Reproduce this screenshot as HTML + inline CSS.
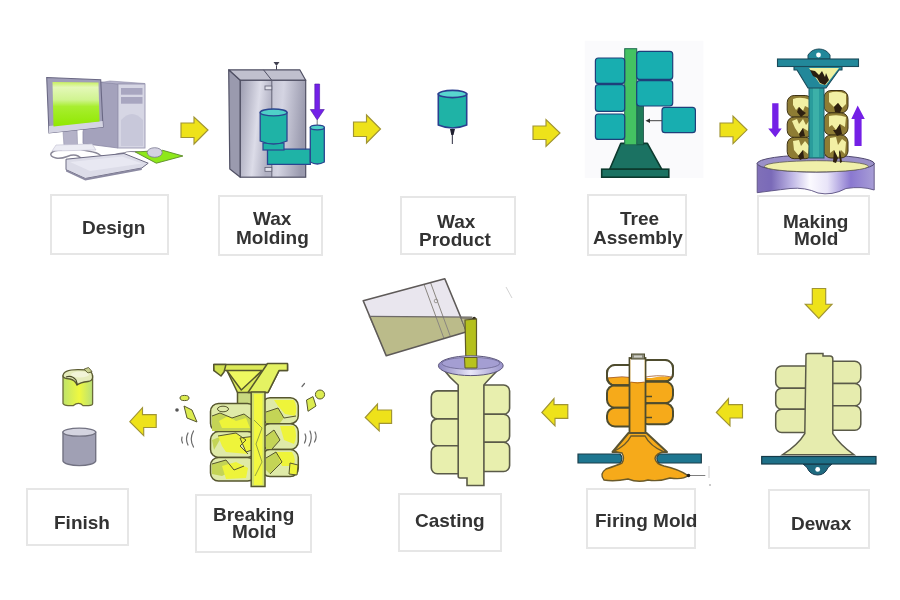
<!DOCTYPE html>
<html><head><meta charset="utf-8">
<style>
html,body{margin:0;padding:0;background:#fff;width:900px;height:600px;overflow:hidden;position:relative;font-family:"Liberation Sans",sans-serif;}
.box{position:absolute;border:2px solid #e6e6e6;box-sizing:border-box;background:#fff;}
.t{position:absolute;white-space:nowrap;font-weight:bold;color:#333;will-change:transform;font-size:19px;line-height:19px;}
svg{position:absolute;left:0;top:0;}
</style></head><body>
<div class="box" style="left:49.6px;top:193.6px;width:119.7px;height:61.6px"></div>
<div class="box" style="left:218.4px;top:194.8px;width:105.0px;height:61.2px"></div>
<div class="box" style="left:399.9px;top:196.4px;width:116.3px;height:59.1px"></div>
<div class="box" style="left:587.3px;top:193.7px;width:100.2px;height:62.6px"></div>
<div class="box" style="left:757.2px;top:194.9px;width:113.2px;height:60.6px"></div>
<div class="box" style="left:768.2px;top:488.8px;width:102.2px;height:59.8px"></div>
<div class="box" style="left:586.1px;top:488.0px;width:109.7px;height:60.7px"></div>
<div class="box" style="left:397.7px;top:493.0px;width:103.9px;height:58.8px"></div>
<div class="box" style="left:195.2px;top:493.8px;width:116.5px;height:59.1px"></div>
<div class="box" style="left:26.3px;top:488.0px;width:103.1px;height:58.0px"></div>

<div class="t" id="t1" style="left:81.8px;top:218px">Design</div>
<div class="t" id="t2a" style="left:253.4px;top:209.4px">Wax</div>
<div class="t" id="t2b" style="left:236.3px;top:227.9px">Molding</div>
<div class="t" id="t3a" style="left:436.7px;top:211.6px">Wax</div>
<div class="t" id="t3b" style="left:419.2px;top:230.2px">Product</div>
<div class="t" id="t4a" style="left:619.5px;top:209.4px">Tree</div>
<div class="t" id="t4b" style="left:592.7px;top:227.5px">Assembly</div>
<div class="t" id="t5a" style="left:783.2px;top:211.5px">Making</div>
<div class="t" id="t5b" style="left:793.6px;top:229.4px">Mold</div>
<div class="t" id="t6" style="left:791.2px;top:513.8px">Dewax</div>
<div class="t" id="t7" style="left:595.4px;top:511.2px">Firing Mold</div>
<div class="t" id="t8" style="left:415.1px;top:511.4px">Casting</div>
<div class="t" id="t9a" style="left:213.4px;top:505px">Breaking</div>
<div class="t" id="t9b" style="left:231.7px;top:522.1px">Mold</div>
<div class="t" id="t10" style="left:54.4px;top:513.4px">Finish</div>
<svg width="900" height="600" viewBox="0 0 900 600">
<defs>
<linearGradient id="scr" x1="0" y1="0" x2="0" y2="1"><stop offset="0" stop-color="#c8f060"/><stop offset="0.12" stop-color="#e4f8b8"/><stop offset="0.4" stop-color="#d0f490"/><stop offset="0.55" stop-color="#a8ee30"/><stop offset="1" stop-color="#90e800"/></linearGradient>
<linearGradient id="steel" x1="0" y1="0" x2="1" y2="0"><stop offset="0" stop-color="#9a9aae"/><stop offset="0.45" stop-color="#d4d4e0"/><stop offset="0.7" stop-color="#b8b8c8"/><stop offset="1" stop-color="#a0a0b4"/></linearGradient>
<linearGradient id="tank" x1="0" y1="0" x2="1" y2="0"><stop offset="0" stop-color="#8070b8"/><stop offset="0.12" stop-color="#7a6ab8"/><stop offset="0.3" stop-color="#c0b8e6"/><stop offset="0.45" stop-color="#fbfaff"/><stop offset="0.6" stop-color="#e8e4f8"/><stop offset="0.8" stop-color="#8a78d0"/><stop offset="1" stop-color="#a89ed6"/></linearGradient>
<linearGradient id="steelL" x1="0" y1="0" x2="1" y2="0.3"><stop offset="0" stop-color="#9c9cb0"/><stop offset="0.6" stop-color="#dcdce8"/><stop offset="1" stop-color="#b0b0c2"/></linearGradient>
<linearGradient id="steelR" x1="0" y1="0" x2="1" y2="0.2"><stop offset="0" stop-color="#c4c4d4"/><stop offset="0.35" stop-color="#d4d4e2"/><stop offset="1" stop-color="#9a9aae"/></linearGradient>
</defs>
<g id="computer">
<!-- cables -->
<path d="M62,150 C50,150 47,156 56,158 C66,160 70,152 78,156 C86,160 80,166 92,160" fill="none" stroke="#8a8898" stroke-width="1.5"/>
<path d="M74,146 C80,152 95,150 100,155 C106,160 112,154 124,153" fill="none" stroke="#8a8898" stroke-width="1.3"/>
<path d="M124,153 C128,150 134,152 140,152" fill="none" stroke="#8a8898" stroke-width="1.1"/>
<!-- tower -->
<path d="M92,81 L118,84 L118,148 L83,143.5 L83,132 Z" fill="#a4a2bc" stroke="#8a88a4" stroke-width="0.8"/>
<path d="M101,82.5 L110,81 L145,83.5 L118,84 Z" fill="#b4b2ca" stroke="#8a88a4" stroke-width="0.6"/>
<rect x="118" y="84" width="27" height="64" fill="#d6d6e4" stroke="#9a98b2" stroke-width="0.9"/>
<rect x="121" y="88" width="21.5" height="6.7" fill="#a8a6c0"/>
<rect x="121" y="97" width="21.5" height="6.7" fill="#a8a6c0"/>
<path d="M121,120 Q132,108 143,120 V146 H121 Z" fill="#c8c8da"/>
<!-- monitor stand -->
<path d="M63,131 L77,130 L77.5,145 L64,145.5 Z" fill="#b4b2c8" stroke="#9a98b0" stroke-width="0.7"/>
<path d="M56,145 L92,144 L96,150 L52,151 Z" fill="#ececf4" stroke="#c0bed0" stroke-width="0.6"/>
<!-- monitor -->
<path d="M46.7,77.5 L100.7,79.7 L103,127 L49,133 Z" fill="#a09eb8" stroke="#6a6884" stroke-width="1.1"/>
<path d="M49,126 L102.6,121 L103,127 L49,133 Z" fill="#d4d4e2"/>
<path d="M52.5,82 L98.5,82.5 L99.5,121.5 L53.5,126.5 Z" fill="url(#scr)"/>
<!-- keyboard -->
<path d="M66,159.2 L124,153.5 L148.2,163.2 L141.8,168 L85.3,178.5 L66,169.7 Z" fill="#dcdce8" stroke="#6c6a82" stroke-width="1"/>
<path d="M70,162 L122,156.5 L142,163.5 L90,171 Z" fill="#e8e8f2"/>
<path d="M66,169.7 L85.3,178.5 L141.8,168 L141.8,170 L85.3,180.5 L66,171.5 Z" fill="#8c8aa2"/>
<!-- mouse pad -->
<path d="M135.3,152 L162.7,150.3 L182.9,156 L156.3,163.2 Z" fill="#8ee81a" stroke="#5a8a28" stroke-width="0.9"/>
<ellipse cx="154.7" cy="152.5" rx="7.5" ry="4.8" fill="#d4d2e2" stroke="#7a7890" stroke-width="0.8"/>
</g>
<g id="waxmold">
<path d="M273.5,62 L279.5,62 L276.5,66 Z" fill="#404050"/>
<line x1="276.5" y1="66" x2="276.5" y2="70" stroke="#404050" stroke-width="1"/>
<!-- left side face -->
<path d="M228.7,69.8 L240.3,80.3 L240.3,177.2 L229.8,169 Z" fill="#9a9aae" stroke="#505064" stroke-width="1.2" stroke-linejoin="round"/>
<!-- top face -->
<path d="M228.7,69.8 L299.8,69.8 L305.7,80.3 L240.3,80.3 Z" fill="#c0c0ce" stroke="#505064" stroke-width="1.2" stroke-linejoin="round"/>
<line x1="263.5" y1="69.8" x2="271.8" y2="80.3" stroke="#505064" stroke-width="1"/>
<!-- front face -->
<rect x="240.3" y="80.3" width="31.5" height="96.9" fill="url(#steelL)"/>
<rect x="271.8" y="80.3" width="33.9" height="96.9" fill="url(#steelR)"/>
<rect x="240.3" y="80.3" width="65.4" height="96.9" fill="none" stroke="#505064" stroke-width="1.2"/>
<line x1="271.8" y1="80.3" x2="271.8" y2="177.2" stroke="#606074" stroke-width="1"/>
<rect x="265" y="86" width="6.8" height="3.8" fill="#e0e0ea" stroke="#606074" stroke-width="0.8"/>
<rect x="265" y="167.5" width="6.8" height="3.8" fill="#e0e0ea" stroke="#606074" stroke-width="0.8"/>
<!-- teal parts -->
<path d="M267.5,149.2 H310.3 V164.3 H267.5 Z" fill="#1fb3a6" stroke="#2a4590" stroke-width="1.3"/>
<rect x="263" y="143" width="21" height="7" fill="#1fb3a6" stroke="#2a4590" stroke-width="1.2"/>
<path d="M260.2,112.4 V141 Q273.6,147 287,141 V112.4 Z" fill="#1fb3a6" stroke="#2a4590" stroke-width="1.3"/>
<ellipse cx="273.6" cy="112.4" rx="13.4" ry="3.4" fill="#4fd0c8" stroke="#2a4590" stroke-width="1.3"/>
<path d="M310.3,127.5 V162 Q317.3,166 324.3,162 V127.5 Z" fill="#1fb3a6" stroke="#2a4590" stroke-width="1.3"/>
<ellipse cx="317.3" cy="127.5" rx="7" ry="2.3" fill="#4fd0c8" stroke="#2a4590" stroke-width="1.3"/>
<!-- purple arrow -->
<path d="M314.8,84 H319.6 V109.5 H324.3 L317.2,120 L310.3,109.5 H314.8 Z" fill="#7320e8" stroke="#4a1aa0" stroke-width="0.6"/>
<line x1="317.2" y1="120" x2="317.2" y2="125" stroke="#555" stroke-width="0.8"/>
</g>
<g id="waxprod">
<line x1="452.4" y1="130" x2="452.4" y2="144" stroke="#505060" stroke-width="1.2"/>
<path d="M450,129 L455,129 L453.5,135 L451.3,135 Z" fill="#202030"/>
<path d="M438.3,94 V125 Q452.5,131 466.7,125 V94 Z" fill="#1fb3a6" stroke="#2a3f8f" stroke-width="1.6"/>
<ellipse cx="452.5" cy="94" rx="14.2" ry="3.6" fill="#58d6cf" stroke="#2a3f8f" stroke-width="1.6"/>
</g>
<g id="tree">
<rect x="584.7" y="40.7" width="118.7" height="137.3" fill="#fafafc"/>
<path d="M620.8,143.4 L647.4,143.4 L661.7,169.2 L609.7,169.2 Z" fill="#1b7262" stroke="#0c3a2e" stroke-width="1.6" stroke-linejoin="round"/>
<rect x="601.7" y="169.2" width="67.1" height="8" fill="#1b7262" stroke="#0c3a2e" stroke-width="1.6"/>
<rect x="636.7" y="100" width="6.7" height="44.8" fill="#1e7a58" stroke="#154a40" stroke-width="0.8"/>
<rect x="624.7" y="48.7" width="12" height="96.1" fill="#44c262" stroke="#1e6a50" stroke-width="1"/>
<g fill="#18aeb0" stroke="#1e3f7a" stroke-width="1.2">
<rect x="595.4" y="58" width="29.3" height="25.4" rx="3"/>
<rect x="595.4" y="84.7" width="29.3" height="26.7" rx="3"/>
<rect x="595.4" y="114" width="29.3" height="25.4" rx="3"/>
<rect x="636.7" y="51.3" width="36" height="28.1" rx="3"/>
<rect x="636.7" y="80.7" width="36" height="25.3" rx="3"/>
<rect x="662" y="107.4" width="33.4" height="25.3" rx="3"/>
</g>
<line x1="662" y1="120.7" x2="648" y2="120.7" stroke="#404040" stroke-width="1"/>
<path d="M645.5,120.7 L650,118.5 L650,122.9 Z" fill="#303030"/>
</g>
<g id="makemold">
<!-- tank body -->
<path d="M757.2,163 L757.2,192.7 Q770,191 790,188.5 Q805,187 818,193 Q832,196 846,188.5 Q862,186 874.2,190 L874.2,163 Z" fill="url(#tank)" stroke="#5a5080" stroke-width="0.9"/>
<ellipse cx="815.7" cy="163.5" rx="58.5" ry="8.6" fill="#9a90c8" stroke="#504870" stroke-width="1"/>
<ellipse cx="816.4" cy="166.3" rx="52" ry="5.6" fill="#f0f0aa" stroke="#605c50" stroke-width="0.8"/>
<!-- blobs -->
<g stroke="#3e3214" stroke-width="1" fill="#8e7c34">
<rect x="787.2" y="95.5" width="25" height="21.6" rx="7"/>
<rect x="787.2" y="117" width="25" height="20.4" rx="7"/>
<rect x="787.2" y="137.3" width="25" height="21.4" rx="7"/>
<rect x="824" y="90.5" width="24" height="22.5" rx="7"/>
<rect x="824" y="112.8" width="24" height="22.4" rx="7"/>
<rect x="824" y="135" width="24" height="23" rx="7"/>
</g>
<g fill="#f2f0a4">
<path d="M793,99 Q801,96 810,100 L809,108 L805,106 L803,111 L799,107 L796,110 L793,105 Z"/>
<path d="M792,121 L797,119 L799,124 L803,119 L806,125 L809,121 L808,131 L803,128 L799,134 L795,128 Z"/>
<path d="M793,141 L799,140 L801,146 L805,141 L809,146 L808,154 L803,150 L799,156 L794,150 Z"/>
<path d="M829,93 Q838,90 846,94 L846,104 L842,108 L838,103 L834,107 L829,102 Z"/>
<path d="M829,116 Q838,114 846,117 L845,127 L840,124 L836,130 L832,125 L829,127 Z"/>
<path d="M830,138 L836,137 L838,145 L842,139 L846,142 L845,154 L841,150 L838,158 L834,150 L830,153 Z"/>
</g>
<g fill="#2e2010">
<path d="M799,107 L803,111 L806,113 L801,117 L797,112 Z"/>
<path d="M799,134 L803,128 L805,136 L800,137 Z"/>
<path d="M798,156 L803,150 L804,158 L800,160 Z"/>
<path d="M834,107 L838,103 L842,108 L840,113 L835,112 Z"/>
<path d="M833,130 L836,130 L840,124 L842,134 L837,136 Z"/>
<path d="M834,150 L838,158 L836,163 L833,162 Z"/><path d="M840,150 L842,162 L840,163 L839,152 Z"/>
</g>
<!-- column -->
<rect x="809" y="86" width="15" height="72" fill="#2a9c9c" stroke="#1f5a6a" stroke-width="1"/>
<rect x="813" y="88" width="6" height="69" fill="#3cb0a8"/>
<!-- funnel -->
<path d="M794,66.5 L842,66.5 L842,70 L839,70 L826,88 L808,88 L797,70 L794,70 Z" fill="#22889a" stroke="#1a4a5a" stroke-width="1.1" stroke-linejoin="round"/>
<path d="M809,68 L839,68 L826,85 L820,84 Z" fill="#f0f0a0"/>
<path d="M810,70 L815,71 L819,75 L822,71 L825,77 L826,73 L829,80 L825,85 L820,83 L817,78 L813,76 Z" fill="#2a1e10"/>
<!-- crossbar + hook -->
<path d="M808,59 L808,55 Q812,49 819,49 Q826,49 830,55 L830,59 Z" fill="#22889a" stroke="#1a4a5a" stroke-width="1"/>
<circle cx="818.5" cy="55" r="2.4" fill="#fff"/>
<rect x="777.5" y="59" width="81" height="7.5" fill="#22889a" stroke="#1a4a5a" stroke-width="1.1"/>
<!-- purple arrows -->
<path d="M772.2,103.2 H778.5 V128.5 H781.7 L775.3,137.2 L768.2,128.5 H772.2 Z" fill="#7420e6"/>
<path d="M857.7,105.5 L864.8,119 H861.6 V146 H854.5 V119 H851.3 Z" fill="#7420e6"/>
</g>
<g id="dewax">
<g fill="#e6ecae" stroke="#5a5a48" stroke-width="1.5">
<rect x="775.7" y="366" width="36" height="22.2" rx="6"/>
<rect x="775.7" y="388.2" width="36" height="21" rx="6"/>
<rect x="775.7" y="409.2" width="36" height="23.3" rx="6"/>
<rect x="827" y="361.3" width="33.8" height="22.2" rx="6"/>
<rect x="827" y="383.5" width="33.8" height="22.2" rx="6"/>
<rect x="827" y="405.7" width="33.8" height="24.5" rx="6"/>
<path d="M806,355 Q806,353.5 808,353.5 H823 V356 H830 Q832.8,356 832.8,359 V433.7 Q840,445 853.8,454.7 H782.7 Q798,445 804.8,433.7 Z"/>
</g>
<path d="M803,464 L807,467.5 Q810,475 817.7,475 Q825,475 828,467.5 L832,464 Z" fill="#1e6a80" stroke="#1a3a50" stroke-width="1"/>
<circle cx="817.7" cy="469.4" r="2.4" fill="#fff"/>
<rect x="761.7" y="456.5" width="114.3" height="7.5" fill="#1e7088" stroke="#153a48" stroke-width="1.2"/>
</g>
<g id="firing">
<defs><clipPath id="fclipL"><rect x="600" y="360" width="35" height="17.5"/></clipPath><clipPath id="fclipR"><rect x="640" y="355" width="40" height="23"/></clipPath></defs>
<!-- blobs -->
<g fill="#f6aa1a" stroke="#4e4c2e" stroke-width="2">
<rect x="607" y="365" width="30" height="20.5" rx="8"/>
<rect x="607" y="385.2" width="30" height="22.5" rx="8"/>
<rect x="607" y="407.7" width="30" height="18.8" rx="8"/>
<rect x="640" y="360" width="33" height="21.5" rx="8"/>
<rect x="640" y="381.5" width="33" height="21.7" rx="8"/>
<rect x="640" y="403.2" width="33" height="21" rx="8"/>
</g>
<path d="M608,366 H636 V378 Q622,376 608,378 Z" fill="#fff" clip-path="url(#fclipL)"/>
<path d="M641,361 H672 V377.5 Q660,375 650,378.5 Q645,379 641,378 Z" fill="#fff" clip-path="url(#fclipR)"/>
<g fill="none" stroke="#4e4c2e" stroke-width="2">
<rect x="607" y="365" width="30" height="20.5" rx="8"/>
<rect x="640" y="360" width="33" height="21.5" rx="8"/>
</g>
<path d="M608,378 Q622,375.5 636,378" fill="none" stroke="#a0582a" stroke-width="0.8"/>
<path d="M641,378 Q657,374 672,377" fill="none" stroke="#a0582a" stroke-width="0.8"/>
<path d="M646,396.5 H652 M646,417.5 H652" stroke="#4e4c2e" stroke-width="1.6"/>
<!-- column -->
<rect x="629.5" y="358" width="16" height="80" fill="#f6aa1a" stroke="#4e4c2e" stroke-width="1.8"/>
<rect x="630.4" y="359" width="14.2" height="23" fill="#fff"/>
<path d="M630.5,382 Q637.5,384 644.5,382" fill="none" stroke="#a0582a" stroke-width="0.8"/>
<rect x="631.5" y="354" width="13" height="5" fill="#8a8a7a" stroke="#4e4c2e" stroke-width="1"/>
<rect x="634" y="355.5" width="8" height="2" fill="#d0d0c8"/>
<!-- plate -->
<path d="M628.5,433 L646.5,433 L667,452 L612.5,452 Z" fill="#f6aa1a" stroke="#5a5432" stroke-width="2" stroke-linejoin="round"/>
<path d="M578,454 H620 Q624,458.5 620,463 H578 Z" fill="#1e7690" stroke="#1a3e4a" stroke-width="1.2"/>
<path d="M701.3,454 H659 Q654.6,458.5 659,463 H701.3 Z" fill="#1e7690" stroke="#1a3e4a" stroke-width="1.2"/>
<!-- flare + puddle -->
<path d="M631,436 H645 Q650,446 664,452 Q656,453 655,458.5 Q656,464 664,466 Q678,469 688,475.5 Q683,480 670,478 Q658,482 648,480 Q638,483 628,479 Q614,482 604,480 Q599,474 606,469 Q618,465 622,463 Q625,458.5 622,453 Q616,452 614,451 Q626,446 631,436 Z" fill="#f6aa1a" stroke="#6a5a2a" stroke-width="1.4"/>
<line x1="688.4" y1="475.5" x2="705.3" y2="475.5" stroke="#707070" stroke-width="0.9"/>
<circle cx="688.5" cy="475.5" r="1.8" fill="#202020"/>
</g>
<g id="casting">
<!-- ladle -->
<path d="M363.2,300.7 L444.8,278.7 L466.8,331.8 L386.2,355.7 Z" fill="#e9e6ee"/>
<path d="M368.8,316.3 L472.3,317.2 L466.8,331.8 L386.2,355.7 Z" fill="#bbbb8a"/>
<line x1="424" y1="284.3" x2="444" y2="338.6" stroke="#8a8680" stroke-width="1"/>
<line x1="430.5" y1="282.5" x2="450.5" y2="336.8" stroke="#8a8680" stroke-width="1"/>
<circle cx="436" cy="301" r="1.8" fill="none" stroke="#8a8680" stroke-width="0.8"/>
<path d="M363.2,300.7 L444.8,278.7 L466.8,331.8 L386.2,355.7 Z" fill="none" stroke="#5e5a58" stroke-width="1.6" stroke-linejoin="round"/>
<line x1="368.8" y1="316.3" x2="472.3" y2="317.2" stroke="#6e6a68" stroke-width="1.2"/>
<path d="M461,318 L474.2,318.5 L471,330 L466,331.5 Z" fill="#bbbb8a" stroke="#6e6a68" stroke-width="1"/>
<circle cx="474.2" cy="318.5" r="1.8" fill="#302a20"/>
<line x1="506" y1="287" x2="512" y2="298" stroke="#c8c8c8" stroke-width="0.8"/>
<!-- stream -->
<path d="M465,320 L476.5,319 L476.5,369 L466,369 Z" fill="#b4c01c" stroke="#5e5a28" stroke-width="1.2"/>
<!-- blobs -->
<g fill="#e8efae" stroke="#5a5a48" stroke-width="1.6">
<rect x="431.3" y="390.9" width="32" height="28" rx="6"/>
<rect x="431.3" y="418.9" width="32" height="26.9" rx="6"/>
<rect x="431.3" y="445.8" width="32" height="28" rx="6"/>
<rect x="478" y="385" width="31.6" height="29.2" rx="6"/>
<rect x="478" y="414.2" width="31.6" height="28.1" rx="6"/>
<rect x="478" y="442.3" width="31.6" height="29.2" rx="6"/>
<path d="M444,370 H498 Q488,380 483.9,385 V485.5 H467 V478 H460 Q458.2,478 458.2,476 V385 Q450,378 444,370 Z"/>
</g>
<!-- cup -->
<defs><linearGradient id="cupr" x1="0" y1="0" x2="1" y2="0"><stop offset="0" stop-color="#8c86c0"/><stop offset="0.5" stop-color="#e8e6f8"/><stop offset="1" stop-color="#9a94cc"/></linearGradient></defs>
<ellipse cx="470.8" cy="365.7" rx="32.4" ry="9.9" fill="url(#cupr)" stroke="#5a5478" stroke-width="1"/>
<ellipse cx="470.8" cy="363.3" rx="29" ry="6" fill="#a49ed2" stroke="#6a6490" stroke-width="0.8"/>
<path d="M464.5,357.5 L477,357.5 L477,368 L465,368 Z" fill="#b8c21c" stroke="#5e5a28" stroke-width="1"/>
</g>
<g id="breaking">
<g stroke="#56562e" stroke-width="1.5" stroke-linejoin="round">
<!-- back column -->
<rect x="237.5" y="390" width="16" height="20" fill="#c8d880"/>
<!-- blobs -->
<g fill="#dfeaa8">
<rect x="210.5" y="403.5" width="45" height="28" rx="8"/>
<rect x="210.5" y="431.6" width="45" height="25.8" rx="8"/>
<rect x="210.5" y="457.4" width="45" height="23.6" rx="8"/>
<rect x="262" y="397.8" width="36.3" height="25.9" rx="8"/>
<rect x="262" y="423.7" width="36.3" height="25.9" rx="8"/>
<rect x="262" y="449.6" width="36.3" height="27" rx="8"/>
</g>
</g>
<g fill="#c4d456">
<path d="M212,416 L220,413 L232,418 L244,414 L252,420 L252,431 L212,431 Z"/>
<path d="M212,440 L222,436 L214,450 Z"/>
<path d="M266,412 L278,408 L284,418 L280,423 L266,423 Z"/>
<path d="M266,436 L274,430 L280,440 L272,449 L266,449 Z"/>
<path d="M212,464 L226,460 L234,470 L222,476 L212,474 Z"/>
<path d="M266,458 L276,452 L282,462 L270,474 L266,470 Z"/>
</g>
<g fill="#eef43a">
<path d="M219,421 L228,416 L236,421 L246,418 L250,428 L222,428 Z"/>
<path d="M218,436 L236,433 L246,440 L240,446 L248,454 L226,452 L222,446 Z"/>
<path d="M222,466 L236,462 L248,468 L246,478 L226,479 Z"/>
<path d="M274,400 L294,400 Q298,408 295,416 L285,414 L278,406 Z"/>
<path d="M280,426 L294,426 Q298,436 294,444 L284,440 Z"/>
<path d="M276,452 L292,452 Q297,460 293,466 L282,466 Z"/>
<path d="M240,438 L256,436 L258,448 L246,452 Z"/>
<path d="M290,463 L298,465 L297,475 L289,474 Z"/>
</g>
<g fill="none" stroke="#56562e" stroke-width="1">
<ellipse cx="223" cy="409" rx="5.5" ry="2.8"/>
<path d="M212,416 L220,413 L232,418 L244,414 L252,420"/>
<path d="M218,436 L236,433 L246,440 L240,446 L248,454"/>
<path d="M212,464 L226,460 L234,470 L244,466"/>
<path d="M266,412 L278,408 L284,418 L296,416"/>
<path d="M266,436 L274,430 L280,440 L272,449"/>
<path d="M266,458 L276,452 L282,462 L270,474"/>
<path d="M240,438 L256,436 L258,448 L246,452 Z"/>
<path d="M290,463 L298,465 L297,475 L289,474 Z"/>
</g>
<!-- funnel -->
<g stroke="#56562e" stroke-width="1.5" stroke-linejoin="round">
<path d="M213.8,364.4 H287.5 V370.6 H279 L268,392.5 H237.5 L227,370.6 H213.8 Z" fill="#dcea58"/>
<path d="M227,370.6 H262 L252,380 L241.3,390 Z" fill="#eef860"/>
<path d="M267.5,363.5 H287.5 V370.6 H279 L268,392.5 H248 Z" fill="#e4f262"/>
<path d="M213.8,364.4 H226 L224,372 L221,376 L214,370.6 Z" fill="#d0e050"/>
</g>
<!-- column -->
<rect x="251.2" y="392" width="13.8" height="94.5" fill="#d0e070" stroke="#56562e" stroke-width="1.5"/>
<rect x="254" y="394" width="8.5" height="91" fill="#f2f840"/>
<path d="M254,420 L262,428 L256,444 L262,462 L255,476" fill="none" stroke="#8a9a40" stroke-width="0.9"/>
<!-- fragments -->
<g fill="#dcec50" stroke="#56562e" stroke-width="1">
<ellipse cx="184.5" cy="398" rx="4.5" ry="2.6"/>
<path d="M184,406 L192,410 L197,422 L187,418 Z"/>
<path d="M306.5,400 L313,396.6 L316,406 L308,411.3 Z"/>
<ellipse cx="320" cy="394.5" rx="4.6" ry="4.5"/>
</g>
<circle cx="177" cy="410" r="1.8" fill="#555"/>
<g fill="none" stroke="#6a6a6a" stroke-width="1.2" stroke-linecap="round">
<path d="M193.5,431 Q189,439 193.5,447"/><path d="M188,433 Q185,439 188,445"/><path d="M182,437 Q181,440 182.5,443"/>
<path d="M310,431 Q313,438 309,446"/><path d="M315,432 Q317.5,437 314.5,442"/><path d="M305,434 Q307,438 304.5,443"/>
<path d="M302,386.5 L304.5,383.5"/>
</g>
</g>
<g id="finish">
<defs><linearGradient id="cupg" x1="0" y1="0" x2="1" y2="0"><stop offset="0" stop-color="#bfe46a"/><stop offset="0.55" stop-color="#eef840"/><stop offset="1" stop-color="#b8e078"/></linearGradient></defs>
<path d="M63,376 V403.5 Q64,405.6 68,405.6 L73.4,405.6 Q76,403.4 78.5,403.4 Q81,403.4 83,405.6 L88.5,405.6 Q92.6,405.6 92.6,403.5 V376 Z" fill="url(#cupg)" stroke="#6a6a38" stroke-width="1.3"/>
<path d="M63,376 Q63,369.6 78,369.6 Q87,369.6 90,371 Q92.6,373 92.6,377 Q92.6,381 88,381.5 Q80,382.5 77,385 Q75,380 70,379 Q63,378.5 63,376 Z" fill="#e6ecbc" stroke="#5a5a30" stroke-width="1.3"/>
<path d="M66,377 Q72,375 76,380 L77.5,385" fill="none" stroke="#4a4a28" stroke-width="1.2"/>
<path d="M84,369.2 L88.5,367.5 L92,371.5 L88,373 Z" fill="#c8d090" stroke="#5a5a30" stroke-width="0.9"/>
<ellipse cx="80" cy="374.5" rx="9" ry="3" fill="#f2f4d8"/>
<path d="M63,432.2 V461 A16.4,5 0 0 0 95.7,461 V432.2 Z" fill="#a0a0b4" stroke="#727282" stroke-width="1.4"/>
<ellipse cx="79.3" cy="432.2" rx="16.4" ry="4" fill="#d4d4e0" stroke="#727282" stroke-width="1.3"/>
</g>
<g fill="none" stroke="#cfcfcf" stroke-width="1"><path d="M709,466 V478"/></g>
<circle cx="710" cy="485" r="1" fill="#b8b8b8"/>
<g id="arrows" fill="#eee21a" stroke="#a09434" stroke-width="1.15" stroke-linejoin="miter">
<path d="M181,123 H194 V117 L208,130 L194,144 V137.5 H181 Z"/>
<path d="M353.5,122 H366.5 V115 L380.5,129 L366.5,143 V136.5 H353.5 Z"/>
<path d="M533,126 H546 V119.5 L560,133 L546,146.5 V139.5 H533 Z"/>
<path d="M720,123 H733 V116 L747,129.8 L733,143.7 V136.7 H720 Z"/>
<path d="M812.3,288.5 H825.7 V304.2 H832 L818.8,318.3 L805.3,304.2 H812.3 Z"/>
<path d="M742.5,404.6 H728.5 V398.5 L716.3,412.5 L730,425.8 V418 H742.5 Z"/>
<path d="M567.8,404.6 H554 V398.5 L541.8,412.5 L555,425.8 V418.3 H567.8 Z"/>
<path d="M391.6,410 H377.5 V404 L365.2,417.5 L379.2,430.8 V423.3 H391.6 Z"/>
<path d="M156.2,414.6 H142.5 V407.7 L129.8,421.7 L143.7,435.7 V427.5 H156.2 Z"/>
</g>
</svg>
</body></html>
